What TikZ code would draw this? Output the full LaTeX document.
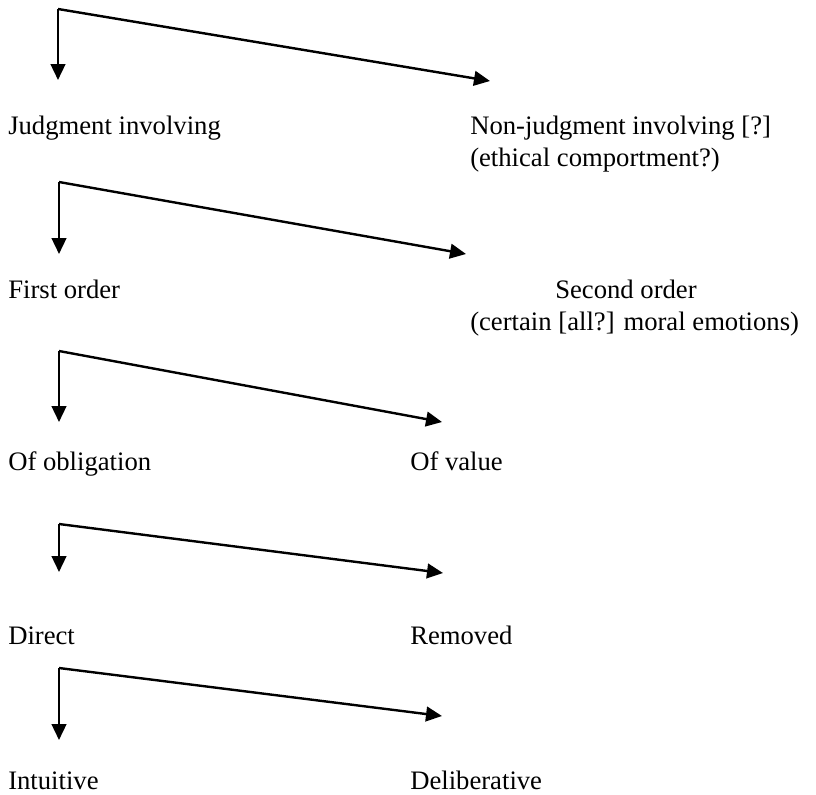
\documentclass[tikz,border=0pt]{standalone}
\usepackage{fontspec}
\setmainfont{Liberation Serif}
\usepackage{tikz}
\usetikzlibrary{arrows.meta, positioning}
\tikzset{
  label/.style={anchor=base west, inner sep=0pt, font=\fontsize{20}{24}\selectfont},
  split/.style={line width=1.8pt, -{Triangle[length=12pt,width=11pt]}}
}

\begin{document}
\begin{tikzpicture}[x=0.75pt, y=-0.75pt]
\useasboundingbox (0,0) rectangle (816,794);
% Level 1
\coordinate (c1) at (58,9);
\coordinate (d1) at (58,80);
\coordinate (s1) at (490,81);
\draw[split] (c1) -- (d1);
\draw[split] (c1) -- (s1);
\node[label] (judg) at (8,134) {Judgment involving};
\node[label] (nonjudg) at (470,134) {Non-judgment involving [?]};
\node[label] (ethic) at (470,166) {(ethical comportment?)};
% Level 2
\coordinate (c2) at (59,182);
\coordinate (d2) at (59,254);
\coordinate (s2) at (466,254);
\draw[split] (c2) -- (d2);
\draw[split] (c2) -- (s2);
\node[label] (first) at (8,298) {First order};
\node[label] (second) at (555,298) {Second order};
\node[label] (emot) at (470,330) {(certain [all?] moral emotions)};
% Level 3
\coordinate (c3) at (59,351);
\coordinate (d3) at (59,422);
\coordinate (s3) at (442,422);
\draw[split] (c3) -- (d3);
\draw[split] (c3) -- (s3);
\node[label] (oblig) at (8,470) {Of obligation};
\node[label] (value) at (410,470) {Of value};
% Level 4
\coordinate (c4) at (59,524);
\coordinate (d4) at (59,572);
\coordinate (s4) at (443,573);
\draw[split] (c4) -- (d4);
\draw[split] (c4) -- (s4);
\node[label] (direct) at (8,644) {Direct};
\node[label] (removed) at (410,644) {Removed};
% Level 5
\coordinate (c5) at (59,668);
\coordinate (d5) at (59,740);
\coordinate (s5) at (442,716);
\draw[split] (c5) -- (d5);
\draw[split] (c5) -- (s5);
\node[label] (intuit) at (8,789) {Intuitive};
\node[label] (delib) at (410,789) {Deliberative};
\end{tikzpicture}
\end{document}
